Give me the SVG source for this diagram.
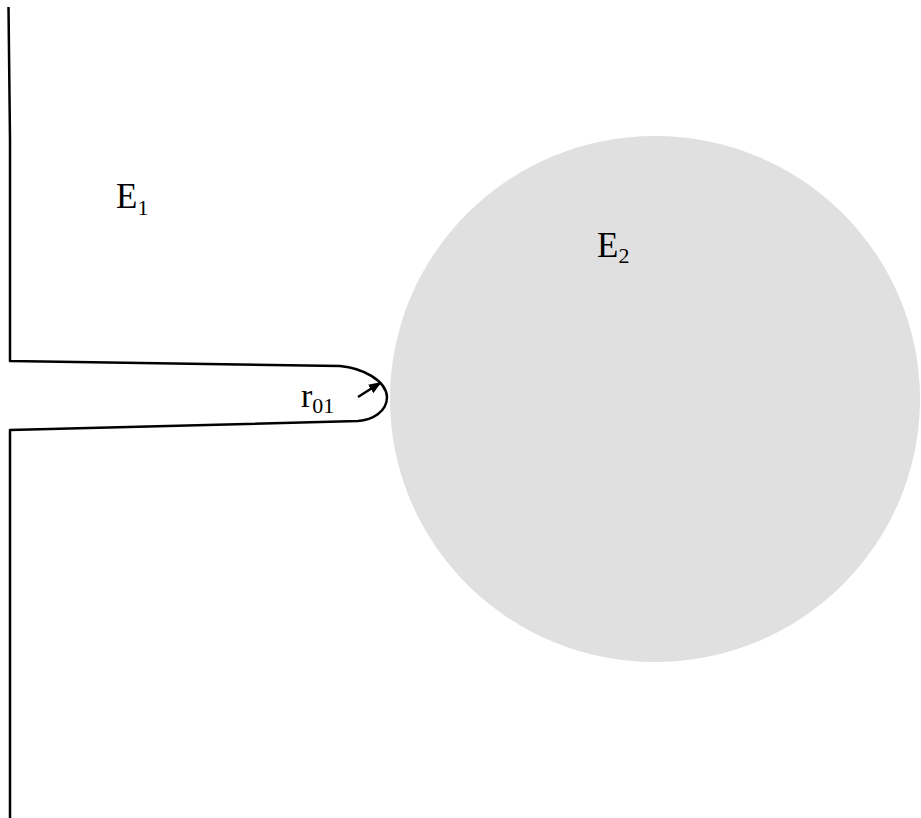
<svg xmlns="http://www.w3.org/2000/svg" width="921" height="818" viewBox="0 0 921 818">
<style>
.ln{fill:none;stroke:#000;stroke-width:2.5;stroke-linejoin:round}
.t{font-family:"Liberation Serif","Times New Roman",serif;fill:#000}
</style>
<defs>
<marker id="ah" viewBox="0 0 13 10" refX="11" refY="5" markerWidth="13" markerHeight="10" orient="auto" markerUnits="userSpaceOnUse">
<path d="M0,0 L13,5 L0,10 z" fill="#000"/>
</marker>
</defs>
<rect width="921" height="818" fill="#fff"/>
<g id="E2">
<ellipse cx="655" cy="399" rx="265" ry="263" fill="#e0e0e0"/>
<text class="t" x="597" y="257" font-size="35">E<tspan font-size="22" dy="6">2</tspan></text>
</g>
<g id="E1">
<path class="ln" d="M8.5,7 L10,140 L10,361 L340,366 C362,368 386,380 387,397 C387,412 372,420 358,421 L10,430 L10,818"/>
<text class="t" x="116" y="208" font-size="35">E<tspan font-size="22" dy="7">1</tspan></text>
</g>
<g id="connectors">
<line class="ln" x1="358" y1="397" x2="380" y2="383" stroke-width="3" marker-end="url(#ah)"/>
<text class="t" x="301" y="407" font-size="34">r<tspan font-size="22" dy="6">01</tspan></text>
</g>
</svg>
